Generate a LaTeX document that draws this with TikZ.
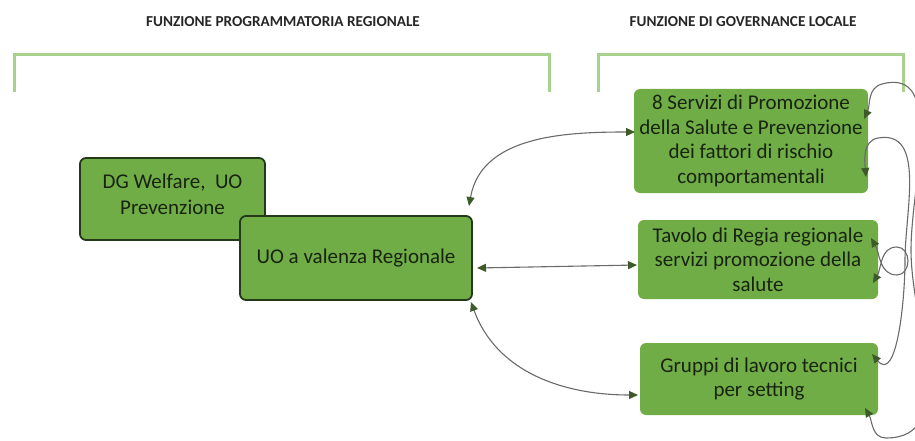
\documentclass[tikz,border=0pt]{standalone}
\usepackage{fontspec}
\setmainfont{Carlito}
\usetikzlibrary{arrows.meta}
\definecolor{boxgreen}{HTML}{70AD47}
\definecolor{bordergreen}{HTML}{24391A}
\definecolor{brackgreen}{HTML}{A9D18E}
\definecolor{txt}{HTML}{18240F}
\definecolor{conn}{HTML}{6A6A6A}
\definecolor{tipc}{HTML}{3D5A2A}
\tikzset{
  box/.style={fill=boxgreen, rounded corners=6pt, align=center, text=txt, font=\fontsize{21}{24.5}\selectfont, inner sep=0pt},
  dbox/.style={box, draw=bordergreen, line width=1.8pt},
  btext/.style={align=center, text=txt, font=\fontsize{21}{26}\selectfont, inner sep=0pt},
  brack/.style={draw=brackgreen, line width=3pt},
  title/.style={font=\bfseries\fontsize{15.2}{17}\selectfont, text=black!85},
  conn/.style={draw=conn, line width=1.1pt, {Triangle[length=9pt,width=8pt,color=tipc]}-{Triangle[length=9pt,width=8pt,color=tipc]}},
}
\begin{document}
\begin{tikzpicture}[x=1pt,y=-1pt]
\useasboundingbox (0,0) rectangle (915,441);
\node[title] (t1) at (283,22) {FUNZIONE PROGRAMMATORIA REGIONALE};
\node[title] (t2) at (743,22) {FUNZIONE DI GOVERNANCE LOCALE};
\draw[brack] (14,92) -- (14,55) -- (549,55) -- (549,92);
\draw[brack] (598,92) -- (598,55) -- (903,55) -- (903,92);

\node[dbox, minimum width=185pt, minimum height=82pt] (dg) at (172.5,199) {};
\node[btext] (dgt) at (172.5,194) {DG Welfare,\ \ UO\\Prevenzione};
\node[dbox, minimum width=232pt, minimum height=84pt] (uo) at (356,258) {UO a valenza Regionale};

\node[box, minimum width=234pt, minimum height=104pt] (s1) at (751,141) {8 Servizi di Promozione\\della Salute e Prevenzione\\dei fattori di rischio\\comportamentali};
\node[box, minimum width=240pt, minimum height=79pt] (s2) at (758,259.5) {Tavolo di Regia regionale\\servizi promozione della\\salute};
\node[box, minimum width=238pt, minimum height=72pt] (s3) at (759,379) {Gruppi di lavoro tecnici\\per setting};

\coordinate (uoA) at (469,206);
\coordinate (uoB) at (477,268);
\coordinate (uoC) at (471,302);
\coordinate (s1A) at (635,132);
\coordinate (s2A) at (637,265);
\coordinate (s3A) at (638,395);
\draw[conn] (uoA) to[out=80,in=180] (s1A);
\draw[conn] (uoB) -- (s2A);
\draw[conn] (uoC) to[out=-70,in=180] (s3A);

% right loops
\coordinate (s1R1) at (864,119);
\coordinate (s1R2) at (866,177);
\coordinate (s2R1) at (871,238);
\coordinate (s2R2) at (873,283);
\coordinate (s3R1) at (872,354);
\coordinate (s3R2) at (865,408);
\draw[conn] (s1R1) to[out=65,in=195] (882,84) to[out=15,in=90] (911,250) to[out=-90,in=0] (886,438) to[out=180,in=-60] (s3R2);
\draw[conn] (s1R2) to[out=95,in=190] (878,138) to[out=10,in=90] (905,260) to[out=-90,in=-50] (s3R1);
\draw[conn] (s2R1) to[out=-60,in=180] (897,275) to[out=0,in=-90] (908,261) to[out=90,in=0] (897,247) to[out=180,in=60] (s2R2);
\end{tikzpicture}
\end{document}
